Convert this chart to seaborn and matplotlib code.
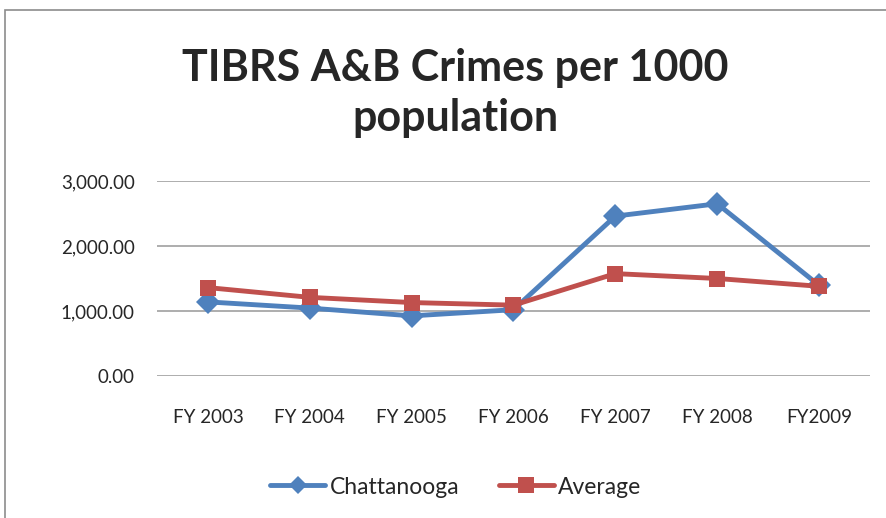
import matplotlib
matplotlib.use("Agg")
import matplotlib.pyplot as plt
import matplotlib.patches as patches
from matplotlib.lines import Line2D
import pandas as pd
import seaborn as sns

years = ["FY 2003", "FY 2004", "FY 2005", "FY 2006", "FY 2007", "FY 2008", "FY2009"]
chattanooga = [1140, 1045, 925, 1020, 2460, 2650, 1395]
average = [1360, 1210, 1130, 1090, 1575, 1500, 1380]

sns.set_style("white")
plt.rcParams["font.family"] = ["Lato", "DejaVu Sans"]

fig = plt.figure(figsize=(8.87, 5.18), dpi=100)
ax = fig.add_axes([157 / 887, 1 - 376 / 518, (870 - 157) / 887, (376 - 181) / 518])

# chart border (right/bottom edges cut off in the original)
fig.patches.append(patches.Rectangle((5 / 887, -0.1), 1.2, 1 - 10 / 518 + 0.1,
                                     transform=fig.transFigure, fill=False,
                                     edgecolor="#8c8c8c", linewidth=1.2))

df = pd.DataFrame({"year": years * 2,
                   "value": chattanooga + average,
                   "series": ["Chattanooga"] * 7 + ["Average"] * 7})

sns.lineplot(data=df, x="year", y="value", hue="series", style="series",
             markers={"Chattanooga": "D", "Average": "s"}, dashes=False,
             palette={"Chattanooga": "#4F81BD", "Average": "#C0504D"},
             linewidth=3.5, markersize=12, markeredgewidth=0, ax=ax, legend=False)

ax.set_ylim(0, 3000)
ax.set_xlim(-0.5, 6.5)
ax.set_yticks([0, 1000, 2000, 3000])
ax.set_yticklabels([f"{v:,.2f}" for v in [0, 1000, 2000, 3000]], fontsize=13.5)
ax.set_xticks(range(len(years)))
ax.set_xticklabels(years, fontsize=13.5)
ax.tick_params(axis="x", pad=24, length=0)
ax.tick_params(axis="y", pad=16, length=0)
ax.yaxis.grid(True, color="#a0a0a0", linewidth=1.2)
ax.set_axisbelow(True)
for s in ax.spines.values():
    s.set_visible(False)
ax.set_xlabel("")
ax.set_ylabel("")

fig.text(0.513, 1 - 93 / 518, "TIBRS A&B Crimes per 1000\npopulation", ha="center",
         va="center", fontsize=31, fontweight="bold", linespacing=1.3)

handles = [Line2D([], [], color="#4F81BD", marker="D", lw=3.5, ms=9, mew=0),
           Line2D([], [], color="#C0504D", marker="s", lw=3.5, ms=12, mew=0)]
fig.legend(handles, ["Chattanooga", "Average"], loc="center", ncol=2,
           bbox_to_anchor=(0.514, 1 - 487 / 518), frameon=False, fontsize=16.5,
           handlelength=2.4, handletextpad=0.2, columnspacing=1.7)

fig.savefig("out.png", dpi=100)
